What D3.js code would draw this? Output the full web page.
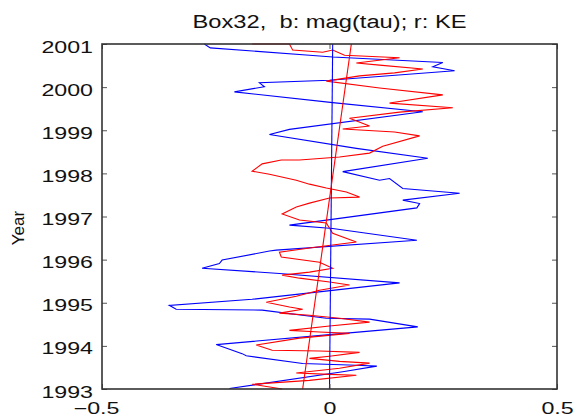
<!DOCTYPE html>
<html>
<head>
<meta charset="utf-8">
<script src="https://cdn.jsdelivr.net/npm/d3@7"></script>
<style>
body { margin: 0; background: #fff; }
text { font-family: "Liberation Sans", Arial, Helvetica, sans-serif; fill: #111; }
</style>
</head>
<body>
<div class="chart"></div>
<script>
// series are [value, year] pairs, read top (2001) to bottom (1993)
var blueTau = [
  [-0.275, 2001.00], [-0.262, 2000.91], [-0.044, 2000.74], [0.007, 2000.70], [0.249, 2000.57],
  [0.227, 2000.47], [0.275, 2000.38], [0.000, 2000.16], [-0.154, 2000.10], [-0.143, 2000.01],
  [-0.209, 1999.89], [0.007, 1999.64], [0.205, 1999.43], [-0.088, 1999.02], [-0.132, 1998.90],
  [0.059, 1998.58], [0.216, 1998.35], [0.029, 1998.04], [0.110, 1997.84], [0.132, 1997.88],
  [0.161, 1997.65], [0.286, 1997.54], [0.161, 1997.38], [0.198, 1997.30], [0.192, 1997.20],
  [-0.088, 1996.80], [0.007, 1996.72], [0.192, 1996.45], [-0.117, 1996.22], [-0.132, 1996.20],
  [-0.236, 1995.99], [-0.242, 1995.91], [-0.280, 1995.80], [-0.110, 1995.68], [0.154, 1995.46],
  [-0.170, 1995.08], [-0.352, 1994.94], [-0.337, 1994.85], [-0.148, 1994.83], [-0.007, 1994.64],
  [0.088, 1994.62], [0.194, 1994.44], [0.000, 1994.26], [-0.249, 1994.03], [-0.192, 1993.82],
  [-0.183, 1993.77], [-0.059, 1993.59], [0.059, 1993.55], [0.104, 1993.53], [0.029, 1993.40],
  [-0.220, 1993.01]
];

var redKE = [
  [-0.170, 2001.00], [-0.088, 2001.00], [-0.081, 2000.86], [-0.015, 2000.81], [0.007, 2000.86],
  [0.033, 2000.74], [0.154, 2000.68], [0.059, 2000.56], [0.110, 2000.51], [0.205, 2000.42],
  [0.143, 2000.33], [0.066, 2000.26], [-0.007, 2000.14], [0.110, 1999.98], [0.249, 1999.82],
  [0.132, 1999.63], [0.271, 1999.52], [0.154, 1999.42], [0.044, 1999.28], [0.088, 1999.10],
  [0.029, 1999.03], [0.143, 1998.96], [0.198, 1998.87], [0.117, 1998.63], [0.088, 1998.47],
  [0.022, 1998.38], [-0.066, 1998.31], [-0.106, 1998.31], [-0.148, 1998.22], [-0.170, 1998.05],
  [-0.132, 1997.98], [-0.073, 1997.84], [-0.044, 1997.75], [-0.007, 1997.66], [0.037, 1997.57],
  [0.066, 1997.45], [0.000, 1997.43], [-0.044, 1997.31], [-0.073, 1997.22], [-0.104, 1997.06],
  [-0.066, 1996.92], [-0.007, 1996.85], [0.007, 1996.61], [0.059, 1996.41], [0.007, 1996.34],
  [-0.044, 1996.27], [-0.110, 1996.17], [-0.106, 1996.06], [-0.022, 1995.94], [0.007, 1995.80],
  [-0.044, 1995.71], [-0.104, 1995.64], [-0.066, 1995.57], [0.000, 1995.48], [0.044, 1995.41],
  [-0.022, 1995.29], [-0.073, 1995.15], [-0.139, 1995.01], [-0.088, 1994.90], [-0.059, 1994.85],
  [-0.110, 1994.76], [-0.044, 1994.71], [0.022, 1994.64], [0.088, 1994.55], [0.000, 1994.46],
  [-0.088, 1994.36], [-0.022, 1994.32], [0.044, 1994.29], [-0.066, 1994.18], [-0.161, 1994.02],
  [-0.126, 1993.90], [-0.022, 1993.88], [0.066, 1993.85], [0.000, 1993.76], [-0.044, 1993.71],
  [0.022, 1993.64], [0.088, 1993.60], [0.022, 1993.48], [-0.073, 1993.37], [0.000, 1993.34],
  [0.059, 1993.32], [-0.044, 1993.20], [-0.170, 1993.11], [-0.104, 1993.00]
];

// linear trends
var blueTrend = [[0.000, 1993], [0.007, 2001]];
var redTrend = [[-0.059, 1993], [0.048, 2001]];

var yearTicks = [1993, 1994, 1995, 1996, 1997, 1998, 1999, 2000, 2001];
var xTicks = [-0.5, 0, 0.5];
var xTickLabels = ["\u22120.5", "0", "0.5"];
var title = "Box32,  b: mag(tau); r: KE";

var width = 580, height = 416;
var margin = {top: 44, right: 23, bottom: 27, left: 102};
var w = width - margin.left - margin.right;
var h = height - margin.top - margin.bottom;
var stretch = 1.45;

var svg = d3.select(".chart").append("svg")
  .attr("width", width).attr("height", height)
  .style("background", "#fff");

var x = d3.scaleLinear().domain([-0.5, 0.5]).range([0, w]);
var y = d3.scaleLinear().domain([1993, 2001]).range([h, 0]);

var g = svg.append("g").attr("transform", "translate(" + margin.left + "," + margin.top + ")");

var line = d3.line().x(function(d) { return x(d[0]); }).y(function(d) { return y(d[1]); });

g.append("path").datum(blueTau).attr("d", line)
  .attr("fill", "none").attr("stroke", "#0000ff").attr("stroke-width", 1.1);
g.append("path").datum(redKE).attr("d", line)
  .attr("fill", "none").attr("stroke", "#ff0000").attr("stroke-width", 1.1);
g.append("path").datum(blueTrend).attr("d", line)
  .attr("fill", "none").attr("stroke", "#0000ff").attr("stroke-width", 1.1);
g.append("path").datum(redTrend).attr("d", line)
  .attr("fill", "none").attr("stroke", "#ff0000").attr("stroke-width", 1.1);

// axes, ticks pointing inward like matlab
var left = g.append("g").call(d3.axisLeft(y).tickValues(yearTicks).tickFormat(d3.format("d"))
  .tickSizeInner(-5).tickSizeOuter(0).tickPadding(9));
var right = g.append("g").attr("transform", "translate(" + w + ",0)")
  .call(d3.axisRight(y).tickValues(yearTicks).tickFormat("").tickSizeInner(-5).tickSizeOuter(0));
var bottom = g.append("g").attr("transform", "translate(0," + h + ")")
  .call(d3.axisBottom(x).tickValues(xTicks).tickFormat(function(d, i) { return xTickLabels[i]; })
  .tickSizeInner(-5).tickSizeOuter(0).tickPadding(14));
var top = g.append("g")
  .call(d3.axisTop(x).tickValues(xTicks).tickFormat("").tickSizeInner(-5).tickSizeOuter(0));

g.selectAll(".domain").remove();
g.selectAll(".tick line").attr("stroke", "#555").attr("stroke-width", 1);

g.append("rect").attr("width", w).attr("height", h)
  .attr("fill", "none").attr("stroke", "#333").attr("stroke-width", 1.6);

left.selectAll("text").attr("font-size", 16).attr("dy", "0.5em").attr("fill", "#111")
  .attr("font-family", "Liberation Sans, Arial, sans-serif");
bottom.selectAll("text").attr("font-size", 16).attr("dy", "0.71em").attr("fill", "#111")
  .attr("font-family", "Liberation Sans, Arial, sans-serif");
bottom.selectAll("text").filter(function(d) { return d < 0; }).attr("dx", -6);

// the original picture is stretched sideways, so widen the glyphs
svg.selectAll(".tick text").each(function() {
  var len = this.getComputedTextLength();
  if (len > 0) d3.select(this).attr("textLength", len * stretch).attr("lengthAdjust", "spacingAndGlyphs");
});

svg.append("text").attr("x", margin.left + w / 2).attr("y", 28)
  .attr("text-anchor", "middle").attr("font-size", 18)
  .style("white-space", "pre")
  .attr("textLength", 274).attr("lengthAdjust", "spacingAndGlyphs")
  .text(title);

svg.append("text").attr("transform", "translate(24,228) rotate(-90)")
  .attr("text-anchor", "middle").attr("font-size", 17)
  .text("Year");
</script>
</body>
</html>
